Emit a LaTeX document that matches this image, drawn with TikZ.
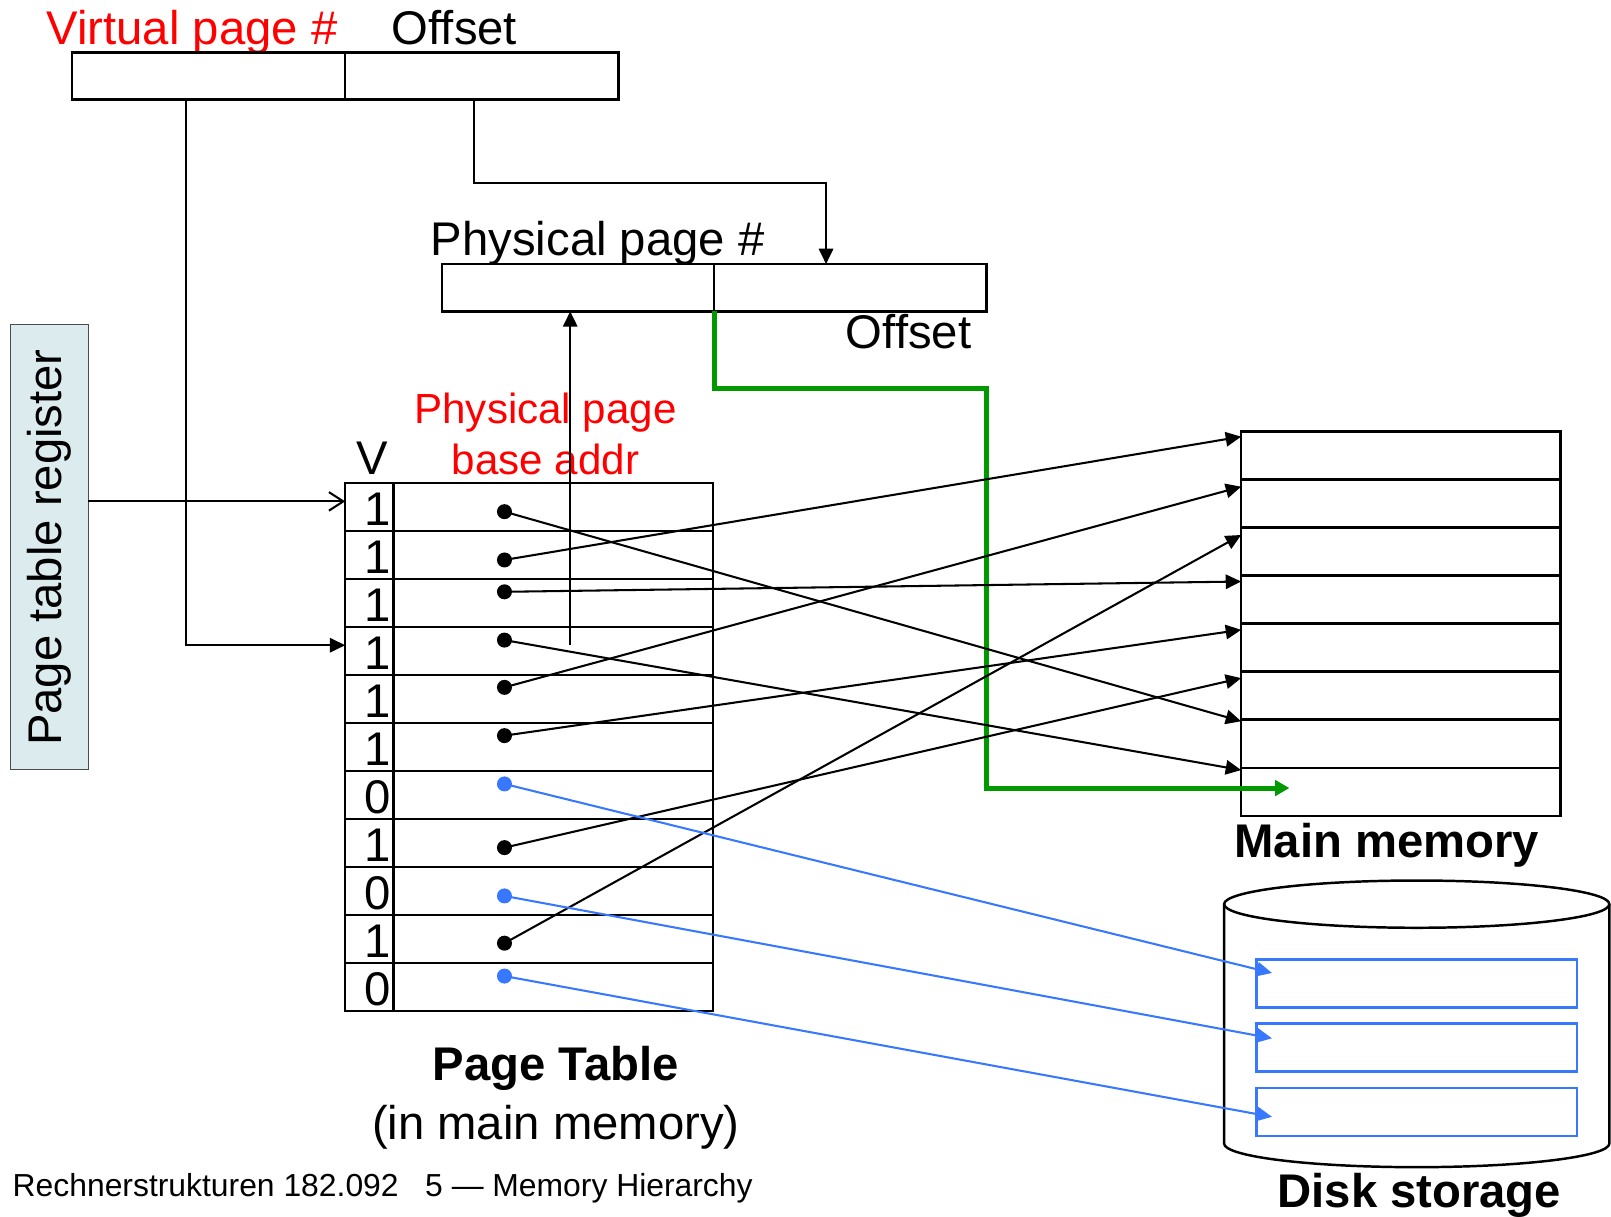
\documentclass[tikz,border=0pt]{standalone}
\usepackage{fontspec}
\setmainfont{Liberation Sans}
\usetikzlibrary{arrows.meta}

\definecolor{regfill}{RGB}{220,235,238}
\definecolor{okgreen}{RGB}{0,153,0}
\definecolor{dskblue}{RGB}{55,120,255}
\newcommand{\labsize}{\fontsize{23}{28}\selectfont}
\newcommand{\redsize}{\fontsize{20.5}{25}\selectfont}
\newcommand{\footsize}{\fontsize{15.5}{19}\selectfont}

\tikzset{
  box/.style={draw, line width=1.2pt},
  ptr/.style={line width=1pt, -{Triangle[length=7.5pt,width=7pt]}},
  dskptr/.style={ptr, draw=dskblue, fill=dskblue},
  entry/.style={circle, fill, inner sep=0pt, minimum size=7.3pt},
  lab/.style={inner sep=0pt, font=\labsize},
}

\begin{document}
\begin{tikzpicture}[x=0.5pt,y=-0.5pt]
  \useasboundingbox (0,0) rectangle (1568,1184);

  % virtual address
  \node[lab, red, anchor=base west] (vlab) at (45,43) {Virtual page \#};
  \node[lab, anchor=base west] (olab) at (381,43) {Offset};
  \draw[box] (70,51) rectangle (602,97);
  \draw[box] (336,51) -- (336,97);
  \coordinate (vpn) at (181,97);
  \coordinate (voff) at (461,97);

  % physical address
  \node[lab, anchor=base west] (plab) at (419,249) {Physical page \#};
  \node[lab, anchor=base west] (polab) at (823,339) {Offset};
  \draw[box] (430,257) rectangle (960,303);
  \draw[box] (695,257) -- (695,303);
  \coordinate (ppn) at (555,303);
  \coordinate (ppoff) at (695,303);
  \coordinate (ppin) at (804,257);

  % page table register
  \draw[fill=regfill, draw=gray!60!black, line width=0.6pt] (10,316) rectangle (86,749);
  \node[lab, rotate=90] (reglab) at (48,533) {Page table register};
  \coordinate (reg) at (86,488);

  % page table
  \node[lab, anchor=base] (vcol) at (362,462) {V};
  \node[inner sep=0pt, red, font=\redsize, anchor=base] (balab) at (531,412) {Physical page};
  \node[inner sep=0pt, red, font=\redsize, anchor=base] (balab2) at (531,462) {base addr};
  \draw[box] (336,470) rectangle (694,984);
  \draw[box] (383,470) -- (383,984);
  \draw[box] (336,516.7) -- (694,516.7) (336,563.5) -- (694,563.5)
             (336,610.2) -- (694,610.2) (336,656.9) -- (694,656.9)
             (336,703.7) -- (694,703.7) (336,750.4) -- (694,750.4)
             (336,797.1) -- (694,797.1) (336,843.8) -- (694,843.8)
             (336,890.6) -- (694,890.6) (336,937.3) -- (694,937.3);
  \coordinate (row0) at (336,488);
  \coordinate (row3) at (336,628);

  \node[lab, anchor=base east] (v0) at (381,511.5) {1};
  \node[lab, anchor=base east] (v1) at (381,558.2) {1};
  \node[lab, anchor=base east] (v2) at (381,605) {1};
  \node[lab, anchor=base east] (v3) at (381,651.7) {1};
  \node[lab, anchor=base east] (v4) at (381,698.4) {1};
  \node[lab, anchor=base east] (v5) at (381,745.2) {1};
  \node[lab, anchor=base east] (v6) at (381,791.9) {0};
  \node[lab, anchor=base east] (v7) at (381,838.6) {1};
  \node[lab, anchor=base east] (v8) at (381,885.3) {0};
  \node[lab, anchor=base east] (v9) at (381,932.1) {1};
  \node[lab, anchor=base east] (v10) at (381,978.8) {0};

  \node[entry] (d0) at (491,498) {};
  \node[entry] (d1) at (491,545) {};
  \node[entry] (d2) at (491,576) {};
  \node[entry] (d3) at (491,623) {};
  \node[entry] (d4) at (491,669) {};
  \node[entry] (d5) at (491,716) {};
  \node[entry, dskblue] (d6) at (491,763) {};
  \node[entry] (d7) at (491,825) {};
  \node[entry, dskblue] (d8) at (491,872) {};
  \node[entry] (d9) at (491,918) {};
  \node[entry, dskblue] (d10) at (491,950) {};

  \node[lab, font=\labsize\bfseries, anchor=base] (ptlab) at (541,1052) {Page Table};
  \node[lab, anchor=base] (ptlab2) at (541,1109) {(in main memory)};

  % main memory
  \draw[box] (1208,420) rectangle (1519,794);
  \draw[box] (1208,466.75) -- (1519,466.75) (1208,513.5) -- (1519,513.5)
             (1208,560.25) -- (1519,560.25) (1208,607) -- (1519,607)
             (1208,653.75) -- (1519,653.75) (1208,700.5) -- (1519,700.5)
             (1208,747.25) -- (1519,747.25);
  \coordinate (m0) at (1208,425);
  \coordinate (m1) at (1208,473.7);
  \coordinate (m2) at (1208,520.7);
  \coordinate (m3) at (1208,566);
  \coordinate (m4) at (1208,613);
  \coordinate (m5) at (1208,660);
  \coordinate (m6) at (1208,702);
  \coordinate (m7) at (1208,749.5);
  \coordinate (mtgt) at (1255,767);
  \node[lab, font=\labsize\bfseries, anchor=base west] (mmlab) at (1201,835) {Main memory};

  % disk storage
  \draw[line width=1.2pt] (1191.4,880) -- (1191.4,1113)
        arc[start angle=180, end angle=0, x radius=187.5, y radius=23]
        -- (1566.4,880);
  \draw[line width=1.2pt] (1378.9,880) ellipse [x radius=187.5, y radius=23];
  \draw[dskblue, line width=1.2pt] (1223,933.7) rectangle (1535,980.8);
  \draw[dskblue, line width=1.2pt] (1223,996) rectangle (1535,1043);
  \draw[dskblue, line width=1.2pt] (1223,1058.7) rectangle (1535,1105.7);
  \coordinate (k0) at (1238,947);
  \coordinate (k1) at (1238,1010.6);
  \coordinate (k2) at (1238,1087);
  \node[lab, font=\labsize\bfseries, anchor=base west] (dslab) at (1243,1175) {Disk storage};

  % connectors
  \draw[line width=1pt, -{Straight Barb[length=7pt,width=9pt]}] (reg) -- (row0);
  \draw[ptr] (vpn) |- (row3);
  \draw[ptr] (voff) -- ++(0,81) -| (ppin);
  \draw[ptr] (555,628) -- (ppn);
  \draw[line width=2.4pt, okgreen, -{Triangle[length=7pt,width=7.5pt]}] (ppoff) |- (960,378) |- (mtgt);

  \draw[ptr] (d0.center) -- (m6);
  \draw[ptr] (d1.center) -- (m0);
  \draw[ptr] (d2.center) -- (m3);
  \draw[ptr] (d3.center) -- (m7);
  \draw[ptr] (d4.center) -- (m1);
  \draw[ptr] (d5.center) -- (m4);
  \draw[ptr] (d7.center) -- (m5);
  \draw[ptr] (d9.center) -- (m2);
  \draw[dskptr] (d6.center) -- (k0);
  \draw[dskptr] (d8.center) -- (k1);
  \draw[dskptr] (d10.center) -- (k2);

  \node[inner sep=0pt, font=\footsize, anchor=base west] (foot) at (12,1165) {Rechnerstrukturen 182.092\ \ \ 5 --- Memory Hierarchy};
\end{tikzpicture}
\end{document}
